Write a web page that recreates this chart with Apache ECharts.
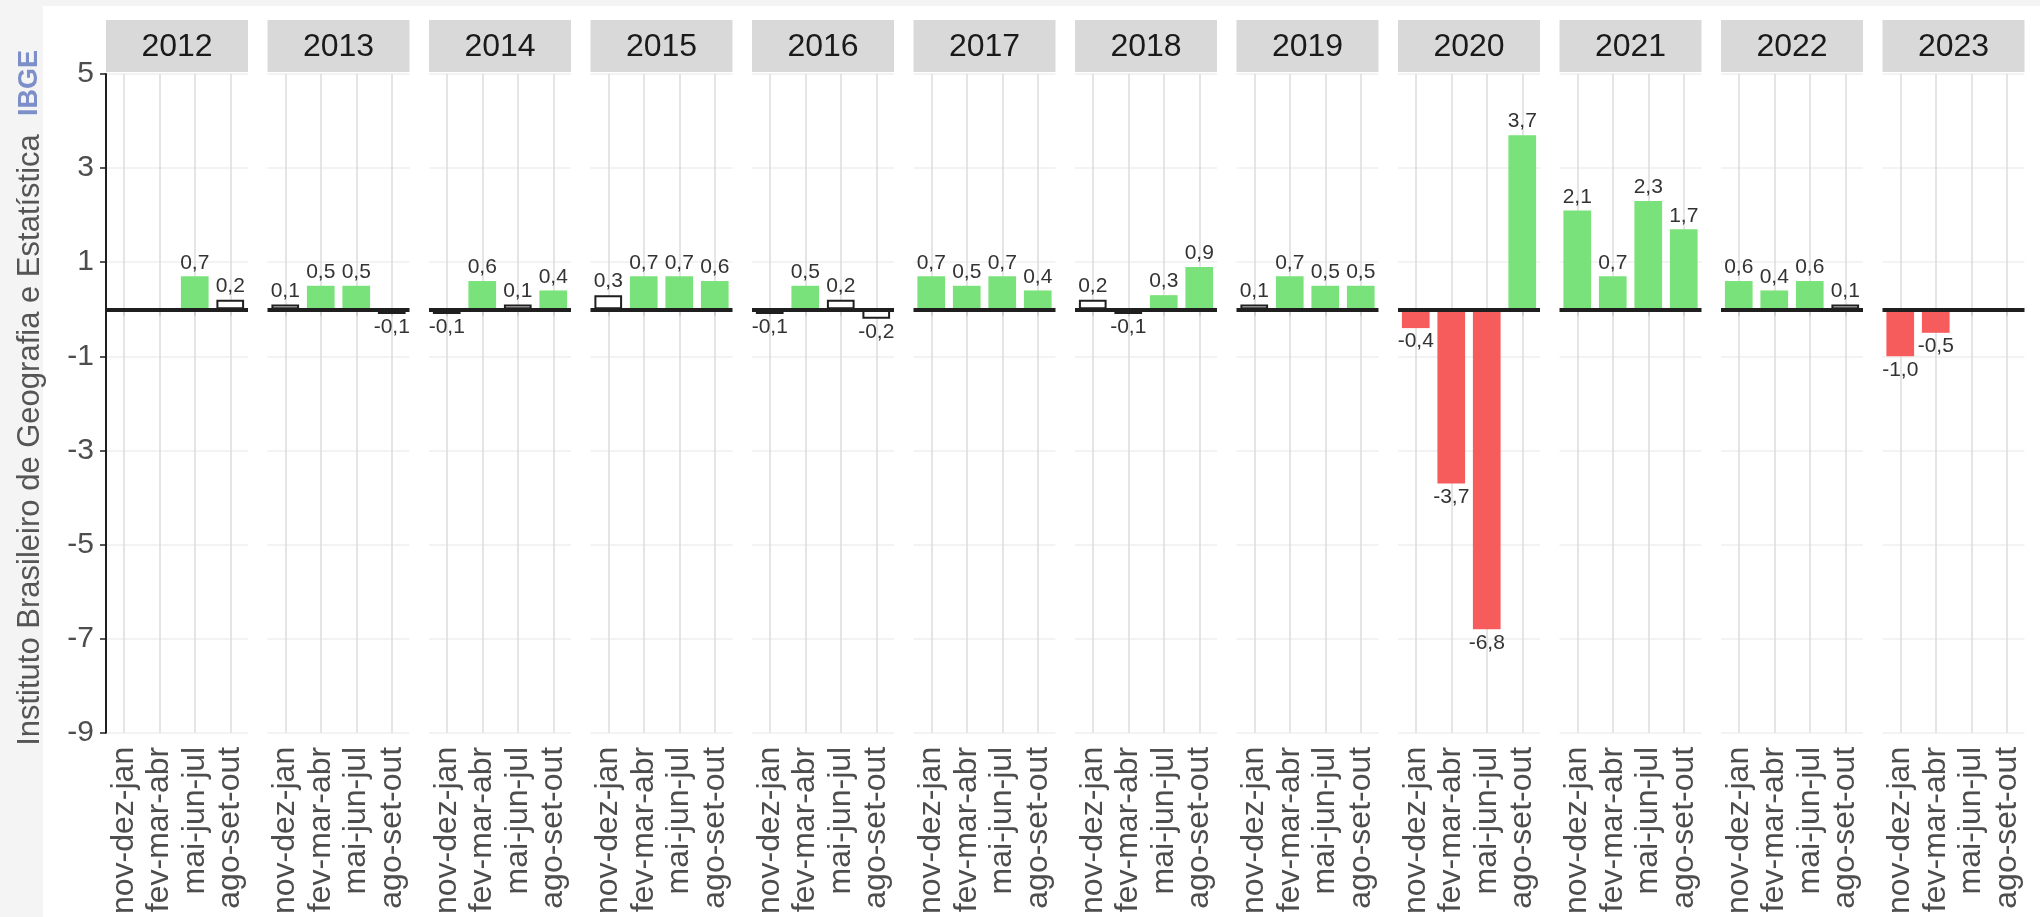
<!DOCTYPE html>
<html>
<head>
<meta charset="utf-8">
<script src="https://cdn.jsdelivr.net/npm/echarts@6/dist/echarts.min.js"></script>
<style>
  html, body { margin: 0; padding: 0; background: #ffffff; }
  #chart { width: 2040px; height: 917px; }
</style>
</head>
<body>
<div id="chart"></div>
<script>
// Taxa de desocupação: variação em relação ao trimestre móvel anterior (p.p.)
const years = ['2012', '2013', '2014', '2015', '2016', '2017', '2018', '2019', '2020', '2021', '2022', '2023'];
const periods = ['nov-dez-jan', 'fev-mar-abr', 'mai-jun-jul', 'ago-set-out'];

// one row per year, one value per rolling quarter (null = no data)
const values = [
  [null, null, 0.7, 0.2],
  [0.1, 0.5, 0.5, -0.1],
  [-0.1, 0.6, 0.1, 0.4],
  [0.3, 0.7, 0.7, 0.6],
  [-0.1, 0.5, 0.2, -0.2],
  [0.7, 0.5, 0.7, 0.4],
  [0.2, -0.1, 0.3, 0.9],
  [0.1, 0.7, 0.5, 0.5],
  [-0.4, -3.7, -6.8, 3.7],
  [2.1, 0.7, 2.3, 1.7],
  [0.6, 0.4, 0.6, 0.1],
  [-1.0, -0.5, null, null]
];

// 1 = statistically significant change, 0 = stable
const significant = [
  [null, null, 1, 0],
  [0, 1, 1, 0],
  [0, 1, 0, 1],
  [0, 1, 1, 1],
  [0, 1, 0, 0],
  [1, 1, 1, 1],
  [0, 0, 1, 1],
  [0, 1, 1, 1],
  [1, 1, 1, 1],
  [1, 1, 1, 1],
  [1, 1, 1, 0],
  [1, 1, null, null]
];

const yTicks = { min: -9, max: 5, step: 2 };

const FONT = '"Liberation Sans", Arial, Helvetica, sans-serif';
const GREEN = '#7ae27a';
const RED = '#f65c5c';
const INK = '#1f1f1f';

const PANEL_LEFT = 106, PANEL_STEP = 161.5, PANEL_W = 142, PANEL_TOP = 74, PANEL_H = 659;
const STRIP_TOP = 20, STRIP_H = 52;

const chart = echarts.init(document.getElementById('chart'), null, { renderer: 'canvas', width: 2040, height: 917 });

const grids = [], xAxes = [], yAxes = [], series = [];
const graphics = [
  { type: 'rect', z: -10, shape: { x: 0, y: 0, width: 43, height: 917 }, style: { fill: '#f4f4f4' } },
  { type: 'rect', z: -10, shape: { x: 0, y: 0, width: 2040, height: 6 }, style: { fill: '#f4f4f4' } },
  {
    type: 'text', z: 10, x: 30, y: 440, rotation: Math.PI / 2,
    style: { text: 'Instituto Brasileiro de Geografia e Estatística', font: '31px ' + FONT, fill: '#555555', align: 'center', verticalAlign: 'middle' }
  },
  {
    type: 'text', z: 10, x: 30, y: 83, rotation: Math.PI / 2,
    style: { text: 'IBGE', font: 'bold 27px ' + FONT, fill: '#7d8fc9', align: 'center', verticalAlign: 'middle' }
  }
];

const fmt = v => v.toFixed(1).replace('.', ',');

years.forEach((yr, i) => {
  const left = PANEL_LEFT + i * PANEL_STEP;
  grids.push({ left: left, top: PANEL_TOP, width: PANEL_W, height: PANEL_H });

  xAxes.push({
    type: 'category', gridIndex: i, data: periods, boundaryGap: true,
    axisLine: { show: false },
    axisTick: { show: true, alignWithLabel: true, length: 7, lineStyle: { color: '#8c8c8c', width: 1.5 } },
    axisLabel: { rotate: 90, interval: 0, margin: 14, fontSize: 32, color: '#4d4d4d', fontFamily: FONT },
    splitLine: { show: false }
  });

  yAxes.push({
    type: 'value', gridIndex: i, min: yTicks.min, max: yTicks.max, interval: yTicks.step,
    axisLine: { show: i === 0, lineStyle: { color: INK, width: 2 } },
    axisTick: { show: i === 0, length: 6, lineStyle: { color: INK, width: 1.5 } },
    axisLabel: { show: i === 0, fontSize: 30, color: '#4d4d4d', margin: 12, fontFamily: FONT },
    splitLine: { show: true, lineStyle: { color: '#efefef', width: 1.5 } }
  });

  // vertical guides at each quarter, behind the bars
  series.push({
    type: 'line', xAxisIndex: i, yAxisIndex: i, silent: true, showSymbol: false,
    data: periods.map(() => '-'),
    markLine: {
      silent: true, symbol: 'none', z: 1, animation: false,
      label: { show: false },
      lineStyle: { color: '#dcdcdc', width: 1.5, type: 'solid' },
      data: periods.map(p => ({ xAxis: p }))
    }
  });

  const vals = values[i], sig = significant[i];
  series.push({
    type: 'bar', xAxisIndex: i, yAxisIndex: i, barWidth: '78%', z: 3, animation: false,
    data: vals.map((v, j) => v === null ? '-' : {
      value: v,
      itemStyle: sig[j]
        ? { color: v >= 0 ? GREEN : RED, borderWidth: 0 }
        : { color: '#ffffff', borderColor: INK, borderWidth: 2 },
      label: { position: v >= 0 ? 'top' : 'bottom' }
    }),
    label: {
      show: true, fontSize: 21, color: '#333333', distance: 3, fontFamily: FONT,
      formatter: p => fmt(p.value)
    },
    markLine: {
      silent: true, symbol: 'none', z: 6, animation: false,
      label: { show: false },
      data: [{ yAxis: 0, lineStyle: { color: INK, width: 4, type: 'solid' } }]
    }
  });

  // facet strip with the year
  graphics.push({
    type: 'rect', z: 5, shape: { x: left, y: STRIP_TOP, width: PANEL_W, height: STRIP_H },
    style: { fill: '#d9d9d9' }
  });
  graphics.push({
    type: 'text', z: 6, x: left + PANEL_W / 2, y: STRIP_TOP + STRIP_H / 2 + 1,
    style: { text: yr, font: '32px ' + FONT, fill: '#1a1a1a', align: 'center', verticalAlign: 'middle' }
  });
});

chart.setOption({
  backgroundColor: '#ffffff',
  animation: false,
  grid: grids,
  xAxis: xAxes,
  yAxis: yAxes,
  series: series,
  graphic: graphics
});
</script>
</body>
</html>
